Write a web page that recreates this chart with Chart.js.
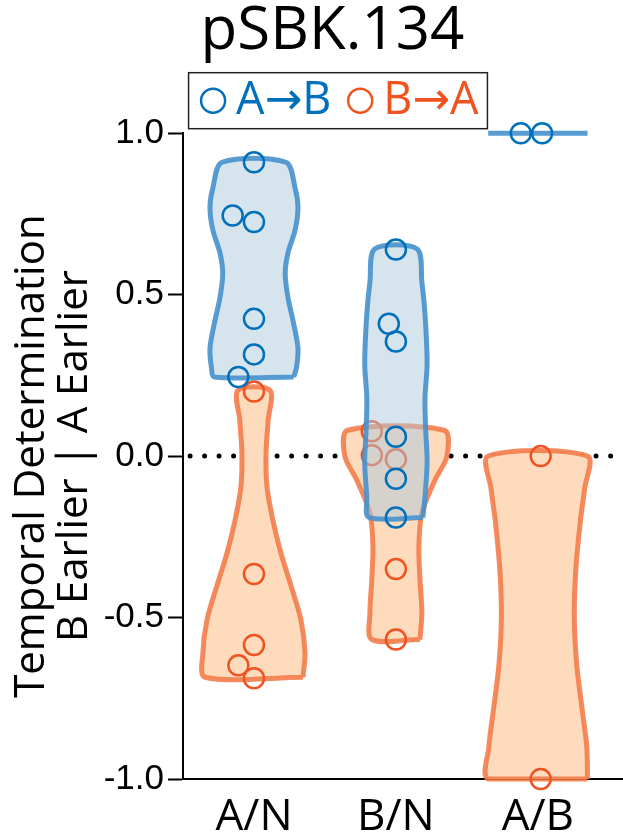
<!DOCTYPE html>
<html>
<head>
<meta charset="utf-8">
<script src="https://cdn.jsdelivr.net/npm/chart.js@4.4.1/dist/chart.umd.min.js"></script>
<style>
  html, body { margin: 0; padding: 0; background: #fff; overflow: hidden; }
  canvas { display: block; }
</style>
</head>
<body>
<canvas id="chart" width="623" height="834"></canvas>
<script>
// categories on the x axis (index 0,1,2)
const categories = ['A/N', 'B/N', 'A/B'];
const yTicks = [-1.0, -0.5, 0.0, 0.5, 1.0];

// A->B points, per category: values and horizontal jitter
const abValues = [
    [0.91, 0.745, 0.725, 0.425, 0.315, 0.245],
    [0.64, 0.41, 0.355, 0.06, -0.07, -0.19],
    [1.0, 1.0]
];
const abJitter = [
    [0, -0.15, 0, 0, 0, -0.11],
    [0, -0.05, 0, 0, 0, 0],
    [-0.12, 0.03]
];

// B->A points
const baValues = [
    [0.20, -0.365, -0.585, -0.648, -0.688],
    [0.077, 0.003, -0.01, -0.35, -0.568],
    [0.0, -1.0]
];
const baJitter = [
    [0, 0, 0, -0.11, 0],
    [-0.17, -0.17, 0, 0, 0],
    [0.02, 0.02]
];

// violin outlines: levels (y) and half widths (x units)
const abLevels = [
    [0.245, 0.275, 0.335, 0.42, 0.49, 0.565, 0.63, 0.70, 0.77, 0.83, 0.91],
    [-0.19, -0.125, -0.02, 0.08, 0.18, 0.287, 0.44, 0.54, 0.642],
    [1.0]
];
const abWidths = [
    [0.28, 0.30, 0.31, 0.275, 0.24, 0.22, 0.24, 0.29, 0.31, 0.29, 0.225],
    [0.19, 0.205, 0.22, 0.21, 0.205, 0.22, 0.205, 0.183, 0.148],
    [0.35]
];
const baLevels = [
    [-0.685, -0.61, -0.505, -0.40, -0.30, -0.20, -0.095, 0.01, 0.11, 0.204],
    [-0.568, -0.485, -0.383, -0.28, -0.177, -0.075, 0.0, 0.08],
    [-1.0, -0.9, -0.8, -0.65, -0.5, -0.35, -0.2, -0.1, 0.0]
];
const baWidths = [
    [0.345, 0.36, 0.33, 0.26, 0.19, 0.134, 0.092, 0.085, 0.1, 0.113],
    [0.17, 0.183, 0.17, 0.162, 0.183, 0.275, 0.36, 0.34],
    [0.35, 0.345, 0.317, 0.275, 0.257, 0.268, 0.30, 0.33, 0.35]
];

const BLUE = 'rgb(0,112,187)';
const BLUE_EDGE = 'rgba(70,145,205,0.9)';
const BLUE_FILL = 'rgba(173,201,221,0.5)';
const ORANGE = 'rgb(240,82,32)';
const ORANGE_EDGE = 'rgba(242,118,66,0.85)';
const ORANGE_FILL = 'rgb(253,219,188)';

function violinPoints(c, levels, widths) {
    if (levels.length === 1) {
        return [{x: c - widths[0], y: levels[0]}, {x: c + widths[0], y: levels[0]}];
    }
    const pts = [];
    for (let i = 0; i < levels.length; i++) pts.push({x: c + widths[i], y: levels[i]});
    for (let i = levels.length - 1; i >= 0; i--) pts.push({x: c - widths[i], y: levels[i]});
    pts.push(pts[0]);
    return pts;
}

function scatterPoints(values, jitter) {
    const pts = [];
    values.forEach((vals, c) => {
        vals.forEach((v, i) => pts.push({x: c + jitter[c][i], y: v}));
    });
    return pts;
}

const datasets = [];

// zero reference line
datasets.push({
    type: 'line',
    data: [{x: -0.45, y: 0}, {x: 2.6, y: 0}],
    borderColor: '#000',
    borderWidth: 5,
    borderDash: [0, 14.5],
    borderCapStyle: 'round',
    pointRadius: 0,
    order: 10,
    clip: false
});

categories.forEach((cat, c) => {
    datasets.push({
        type: 'line',
        data: violinPoints(c, baLevels[c], baWidths[c]),
        borderColor: ORANGE_EDGE,
        backgroundColor: ORANGE_FILL,
        borderWidth: 5,
        borderJoinStyle: 'round',
        fill: 'shape',
        tension: 0.3,
        pointRadius: 0,
        order: 8,
        clip: false
    });
    datasets.push({
        type: 'line',
        data: violinPoints(c, abLevels[c], abWidths[c]),
        borderColor: BLUE_EDGE,
        backgroundColor: BLUE_FILL,
        borderWidth: 5,
        borderJoinStyle: 'round',
        fill: abLevels[c].length > 1 ? 'shape' : false,
        tension: 0.3,
        pointRadius: 0,
        order: 4,
        clip: false
    });
});

datasets.push({
    type: 'scatter',
    data: scatterPoints(baValues, baJitter),
    borderColor: ORANGE,
    backgroundColor: 'rgba(0,0,0,0)',
    borderWidth: 2.5,
    pointRadius: 10,
    order: 6,
    clip: false
});
datasets.push({
    type: 'scatter',
    data: scatterPoints(abValues, abJitter),
    borderColor: BLUE,
    backgroundColor: 'rgba(0,0,0,0)',
    borderWidth: 2.5,
    pointRadius: 10,
    order: 2,
    clip: false
});

// shift title + legend right, and frame the legend
const legendFrame = {
    id: 'legendFrame',
    afterLayout(chart) {
        if (chart.titleBlock) { chart.titleBlock.left += 21; chart.titleBlock.right += 21; }
        if (chart.legend) { chart.legend.left += 34; chart.legend.right += 34; }
    },
    afterDraw(chart) {
        const hb = chart.legend.legendHitBoxes;
        if (!hb || !hb.length) return;
        const first = hb[0], last = hb[hb.length - 1];
        const cy = first.top + first.height / 2;
        const ctx = chart.ctx;
        ctx.save();
        ctx.strokeStyle = '#222';
        ctx.lineWidth = 1.5;
        const x0 = first.left - 24, x1 = last.left + last.width + 9;
        ctx.strokeRect(x0, cy - 28, x1 - x0, 56);
        ctx.restore();
    }
};

new Chart(document.getElementById('chart'), {
    type: 'scatter',
    data: {datasets: datasets},
    options: {
        responsive: false,
        animation: false,
        events: [],
        layout: {padding: 0, autoPadding: false},
        plugins: {
            tooltip: {enabled: false},
            title: {
                display: true,
                text: 'pSBK.134',
                color: '#000',
                font: {family: '"Open Sans", "Noto Sans", sans-serif', size: 60, weight: 'normal', lineHeight: 1.07},
                padding: {top: 0, bottom: 9}
            },
            legend: {
                display: true,
                labels: {
                    font: {family: '"Open Sans", "DejaVu Sans", sans-serif', size: 45},
                    usePointStyle: true,
                    boxWidth: 1,
                    boxHeight: 17,
                    padding: 5,
                    generateLabels: () => [
                        {text: 'A\u2192B  ', fillStyle: 'rgba(0,0,0,0)', strokeStyle: BLUE, fontColor: BLUE, lineWidth: 2.5, pointStyle: 'circle', hidden: false, datasetIndex: 0},
                        {text: 'B\u2192A', fillStyle: 'rgba(0,0,0,0)', strokeStyle: ORANGE, fontColor: ORANGE, lineWidth: 2.5, pointStyle: 'circle', hidden: false, datasetIndex: 1}
                    ]
                }
            }
        },
        scales: {
            x: {
                type: 'linear',
                min: -0.5,
                max: 2.6,
                afterBuildTicks: (s) => { s.ticks = categories.map((c, i) => ({value: i})); },
                afterFit: (s) => { s.height = 55; },
                ticks: {
                    callback: (v) => categories[v],
                    color: '#000',
                    padding: 4,
                    font: {family: '"Open Sans", "Noto Sans", sans-serif', size: 44}
                },
                grid: {display: false},
                border: {display: true, color: '#000', width: 2}
            },
            y: {
                type: 'linear',
                min: -1,
                max: 1,
                afterBuildTicks: (s) => { s.ticks = yTicks.map(v => ({value: v})); },
                afterFit: (s) => { s.width = 183; },
                ticks: {
                    callback: (v) => v.toFixed(1),
                    color: '#000',
                    padding: 4,
                    font: {family: '"Liberation Sans", Arial, sans-serif', size: 35}
                },
                grid: {drawOnChartArea: false, drawTicks: true, tickLength: 15, tickColor: '#000', tickWidth: 2},
                border: {display: true, color: '#000', width: 2},
                title: {
                    display: true,
                    text: ['Temporal Determination', 'B Earlier | A Earlier'],
                    color: '#000',
                    font: {family: '"Open Sans", "Noto Sans", sans-serif', size: 42, lineHeight: 1.03},
                    padding: {top: 10, bottom: 0}
                }
            }
        }
    },
    plugins: [legendFrame]
});
</script>
</body>
</html>
